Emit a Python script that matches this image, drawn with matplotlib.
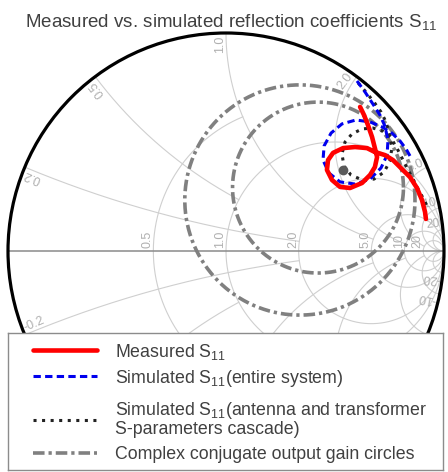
import numpy as np
import matplotlib
matplotlib.use("Agg")
import matplotlib.pyplot as plt
from matplotlib.patches import Circle

plt.rcParams["font.family"] = ["Liberation Sans", "DejaVu Sans"]
plt.rcParams["mathtext.fontset"] = "custom"
plt.rcParams["mathtext.rm"] = "Liberation Sans"
plt.rcParams["mathtext.it"] = "Liberation Sans:italic"
plt.rcParams["mathtext.default"] = "regular"

# --- reflection coefficient traces (real / imaginary part of S11) -------------
meas_re = [0.615, 0.633, 0.651, 0.670, 0.683, 0.693, 0.683, 0.661, 0.624, 0.569,
           0.523, 0.486, 0.463, 0.468, 0.491, 0.537, 0.592, 0.647, 0.683, 0.729,
           0.766, 0.798, 0.844, 0.876, 0.899, 0.913, 0.917]
meas_im = [0.661, 0.624, 0.578, 0.523, 0.472, 0.431, 0.385, 0.349, 0.312, 0.289,
           0.294, 0.326, 0.372, 0.417, 0.450, 0.472, 0.477, 0.472, 0.454, 0.440,
           0.417, 0.385, 0.339, 0.289, 0.234, 0.179, 0.147]

sim_sys_re = [0.601, 0.638, 0.674, 0.706, 0.729, 0.743, 0.739, 0.711, 0.661, 0.592,
              0.523, 0.472, 0.445, 0.450, 0.482, 0.532, 0.596, 0.661, 0.716, 0.761,
              0.798, 0.826, 0.849]
sim_sys_im = [0.780, 0.729, 0.674, 0.624, 0.573, 0.509, 0.440, 0.381, 0.330, 0.307,
              0.317, 0.358, 0.417, 0.482, 0.541, 0.583, 0.601, 0.592, 0.569, 0.541,
              0.505, 0.468, 0.427]

sim_cas_re = [0.606, 0.642, 0.679, 0.711, 0.734, 0.752, 0.761, 0.752, 0.725, 0.679,
              0.624, 0.573, 0.541, 0.532, 0.546, 0.578, 0.624, 0.674, 0.720, 0.757,
              0.784, 0.807, 0.830, 0.858, 0.881, 0.904, 0.927]
sim_cas_im = [0.771, 0.729, 0.683, 0.638, 0.592, 0.532, 0.472, 0.413, 0.362, 0.330,
              0.326, 0.349, 0.390, 0.445, 0.500, 0.537, 0.560, 0.564, 0.550, 0.518,
              0.472, 0.427, 0.381, 0.330, 0.284, 0.243, 0.197]

# conjugate output gain circles: centre and radius in the Gamma plane
gain_c_re = [0.339, 0.422]
gain_c_im = [0.234, 0.291]
gain_rad = [0.528, 0.392]
opt_point = [0.537, 0.372]

# Smith grid: resistance circles / reactance arcs and where they stop
r_vals = [0.5, 1.0, 2.0, 5.0, 10.0, 20.0]
r_stop = [1.0, np.inf, np.inf, np.inf, np.inf, np.inf]     # max |x|
r_text = ["0.5", "1.0", "2.0", "5.0", "10", "20"]
x_vals = [0.2, 0.5, 1.0, 2.0, 5.0, 10.0, 20.0]
x_stop = [2.0, 1.0, 5.0, 10.0, 20.0, np.inf, np.inf]        # max r
x_text = ["0.2", "0.5", "1.0", "2.0", "5.0", "10", "20"]

W, H = 448, 472
CX, CY, R = 226, 251, 218          # chart centre / radius in pixels

GRID = dict(color="#cfcfcf", lw=0.8, zorder=1)
LBL = dict(color="#b0b0b0", fontsize=9, zorder=2)
st_meas = dict(color="#ff0000", lw=3.3, solid_capstyle="round", solid_joinstyle="round")
st_sys = dict(color="#0000ee", lw=2.2, ls=(0, (2.4, 1.4)))
st_cas = dict(color="#222222", lw=2.2, ls=(0, (1, 1.8)))
st_gain = dict(color="#808080", lw=2.6, ls=(0, (3.2, 1.1, 0.9, 1.1)))


def gamma(z):
    return (z - 1) / (z + 1)


fig = plt.figure(figsize=(W / 100, H / 100), dpi=100)
ax = fig.add_axes([0, 0, 1, 1])
ax.set_xlim(-CX / R, (W - CX) / R)
ax.set_ylim(-(H - CY) / R, CY / R)
ax.axis("off")

# ── grid ──────────────────────────────────────────────────────────────────────
for r, xm in zip(r_vals, r_stop):
    a = np.arctan(xm)
    g = gamma(r + 1j * np.tan(np.linspace(-a, a, 900)))
    ax.plot(g.real, g.imag, **GRID)
for x, rm in zip(x_vals, x_stop):
    rr = np.tan(np.linspace(0, np.arctan(rm), 600))
    for s in (1, -1):
        g = gamma(rr + 1j * s * x)
        ax.plot(g.real, g.imag, **GRID)

ax.plot([-1, 1], [0, 0], color="#8a8a8a", lw=1.1, zorder=2)
ax.add_patch(Circle((0, 0), 1, fill=False, ec="black", lw=2.3, zorder=6))

labels = []
for r, t in zip(r_vals, r_text):
    gl = (r - 1) / (r + 1)
    labels.append(ax.text(gl - 0.012, 0.016, t, rotation=90, rotation_mode="anchor",
                          ha="left", va="baseline", **LBL))
for x, t in zip(x_vals, x_text):
    for s in (1, -1):
        g = gamma(1j * s * x) * 0.99
        ang = np.degrees(np.angle(g))
        if s > 0:
            labels.append(ax.text(g.real, g.imag, t, rotation=ang, rotation_mode="anchor",
                                  ha="right", va="bottom", **LBL))
        else:
            labels.append(ax.text(g.real, g.imag, "-" + t, rotation=ang + 180,
                                  rotation_mode="anchor", ha="left", va="bottom", **LBL))

# ── traces ────────────────────────────────────────────────────────────────────
for cr, ci, rad in zip(gain_c_re, gain_c_im, gain_rad):
    th = np.linspace(0, 2 * np.pi, 400)
    ax.plot(cr + rad * np.cos(th), ci + rad * np.sin(th), zorder=3, **st_gain)
ax.plot(sim_cas_re, sim_cas_im, zorder=4, **st_cas)
ax.plot(sim_sys_re, sim_sys_im, zorder=4, **st_sys)
ax.plot([opt_point[0]], [opt_point[1]], "o", color="#5a5a5a", ms=6, zorder=4)
ax.plot(meas_re, meas_im, zorder=5, **st_meas)

fig.text(231 / W, 1 - 27 / H, "Measured vs. simulated reflection coefficients S$_{11}$",
         ha="center", va="baseline", fontsize=13.5, color="#404040")

# ── legend box ────────────────────────────────────────────────────────────────
lx, ly, lw_, lh = 8, 333, 435, 137
lax = fig.add_axes([lx / W, 1 - (ly + lh) / H, lw_ / W, lh / H])
lax.set_xlim(0, lw_)
lax.set_ylim(lh, 0)
lax.set_xticks([])
lax.set_yticks([])
for sp in lax.spines.values():
    sp.set_color("#8c8c8c")
    sp.set_linewidth(1.0)

entries = [
    (st_meas, 17, ["Measured S$_{11}$"], 24),
    (st_sys, 43, ["Simulated S$_{11}$(entire system)"], 50),
    (st_cas, 87, ["Simulated S$_{11}$(antenna and transformer", "S-parameters cascade)"], 82),
    (st_gain, 120, ["Complex conjugate output gain circles"], 126),
]
for style, yh, lines, yb in entries:
    lax.plot([25, 89], [yh, yh], **style)
    for k, line in enumerate(lines):
        lax.text(107, yb + 18.5 * k, line, va="baseline", ha="left",
                 fontsize=12.8, color="#404040")

# chart labels whose centre falls under the legend box are left out
fig.canvas.draw()
box = lax.get_window_extent()
for t in labels:
    bb = t.get_window_extent()
    if box.contains((bb.x0 + bb.x1) / 2, (bb.y0 + bb.y1) / 2):
        t.remove()

fig.savefig("out.png", dpi=100)
